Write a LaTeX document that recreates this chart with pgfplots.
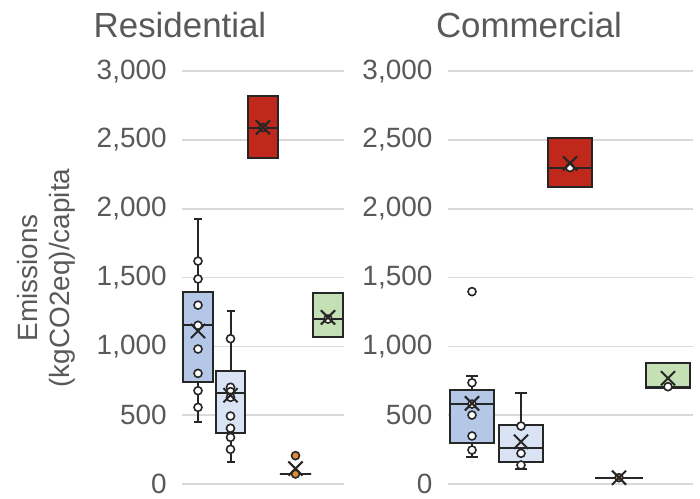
\documentclass[border=0pt]{standalone}
\usepackage{fontspec}
\setmainfont{Liberation Sans}
\usepackage{pgfplots}
\pgfplotsset{compat=1.18}
\definecolor{txt}{HTML}{595959}
\definecolor{edge}{HTML}{262626}
\definecolor{bA}{HTML}{B4C7E7}
\definecolor{bB}{HTML}{DAE3F3}
\definecolor{rd}{HTML}{C0281C}
\definecolor{og}{HTML}{E08A3C}
\definecolor{gn}{HTML}{C5E0B4}
\definecolor{grd}{HTML}{D9D9D9}
\pgfplotsset{
 panel/.style={scale only axis, height=412.8bp, ymin=0, ymax=3000, xmin=0.5, xmax=5.5,
   ytick={0,500,...,3000}, xtick=\empty, ymajorgrids,
   grid style={grd, line width=1.5bp}, axis line style={draw=none}, tick style={draw=none},
   clip=false, anchor=south west,
   yticklabel style={font=\fontsize{28}{30}\selectfont, text=txt, anchor=east, inner sep=0pt, xshift=-15bp},
   /pgf/number format/assume math mode=true, /pgf/number format/1000 sep={,}},
 pts/.style={only marks, mark=*, mark size=4bp, mark options={draw=edge, fill=#1, line width=1.6bp, solid}},
 pts/.default=white,
 mn/.style={only marks, mark=x, mark size=10bp, mark options={draw=edge, line width=2bp, solid}},
}
% #1 fill, #2 left edge, #3 centre, #4 right edge, #5 lower whisker, #6 Q1, #7 median, #8 Q3, #9 upper whisker
\newcommand{\bx}[9]{%
 \addplot[edge, line width=2bp, mark=-, mark size=\capsz, mark options={solid, line width=2bp}] coordinates {(#3,#5) (#3,#6)};
 \addplot[edge, line width=2bp, mark=-, mark size=\capsz, mark options={solid, line width=2bp}] coordinates {(#3,#8) (#3,#9)};
 \addplot[draw=edge, fill=#1, line width=2bp, mark=none] coordinates {(#2,#6) (#4,#6) (#4,#8) (#2,#8)} -- cycle;
 \addplot[edge, line width=2bp, mark=none] coordinates {(#2,#7) (#4,#7)};
}
\begin{document}
\begin{tikzpicture}
\path[use as bounding box] (0bp,0bp) rectangle (700bp,499bp);
% ---------------- Residential ----------------
\def\capsz{4bp}
\begin{axis}[panel, width=162.5bp, at={(181.75bp,15bp)}]
\bx{bA}{0.55}{1}{1.45}{453}{739}{1153}{1393}{1926}
\bx{bB}{1.55}{2}{2.45}{158}{368}{659}{824}{1260}
\bx{rd}{2.55}{3}{3.45}{2367}{2367}{2590}{2822}{2822}
\bx{og}{3.52}{4}{4.48}{72}{72}{72}{72}{72}
\bx{gn}{4.55}{5}{5.45}{1071}{1071}{1199}{1388}{1388}
\addplot[pts] coordinates {(1,1620) (1,1490) (1,1300) (1,1153) (1,981) (1,804) (1,678) (1,557)};
\addplot[pts] coordinates {(2,1056) (2,703) (2,671) (2,630) (2,494) (2,405) (2,339) (2,252)};
\addplot[pts=rd] coordinates {(3,2590)};
\addplot[pts=og] coordinates {(4,206) (4,73)};
\addplot[pts] coordinates {(5,1199)};
\addplot[mn] coordinates {(1,1112) (2,645) (3,2592) (4,112) (5,1211)};
\end{axis}
% ---------------- Commercial ----------------
\def\capsz{6bp}
\begin{axis}[panel, width=245bp, at={(447.5bp,15bp)}]
\bx{bA}{0.55}{1}{1.45}{199}{300}{579}{683}{785}
\bx{bB}{1.55}{2}{2.45}{107}{162}{259}{429}{664}
\bx{rd}{2.55}{3}{3.45}{2156}{2156}{2294}{2517}{2517}
\bx{og}{3.52}{4}{4.48}{46}{46}{46}{46}{46}
\bx{gn}{4.55}{5}{5.45}{700}{700}{705}{877}{877}
\addplot[pts] coordinates {(1,1398) (1,736) (1,581) (1,501) (1,349) (1,247)};
\addplot[pts] coordinates {(2,421) (2,223) (2,138)};
\addplot[pts] coordinates {(3,2300)};
\addplot[pts=og] coordinates {(4,46)};
\addplot[pts] coordinates {(5,707)};
\addplot[mn] coordinates {(1,586) (2,307) (3,2330) (4,46) (5,768)};
\end{axis}
% ---------------- Titles and label ----------------
\node[anchor=base, font=\fontsize{35}{38}\selectfont, text=txt, inner sep=0pt] at (180bp,461.5bp) {Residential};
\node[anchor=base, font=\fontsize{35}{38}\selectfont, text=txt, inner sep=0pt] at (529bp,461.5bp) {Commercial};
\node[rotate=90, align=center, font=\fontsize{28}{32}\selectfont, text=txt, inner sep=0pt] at (46bp,221bp) {Emissions\\(kgCO2eq)/capita};
\end{tikzpicture}
\end{document}
